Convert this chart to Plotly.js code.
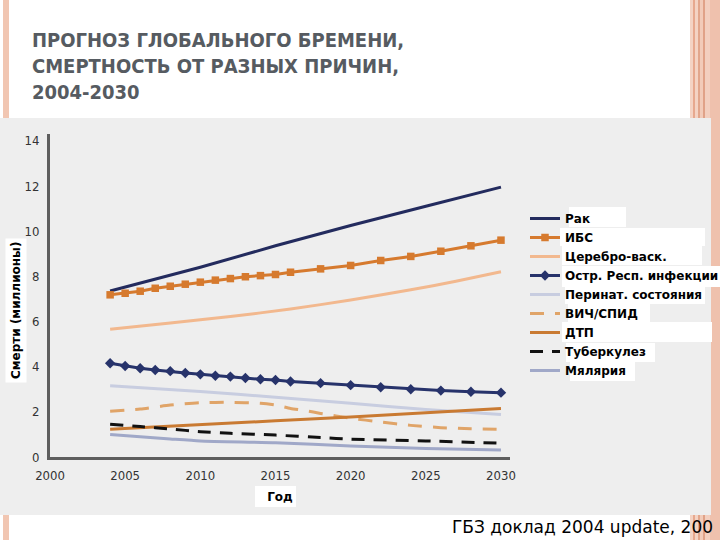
<!DOCTYPE html>
<html>
<head>
<meta charset="utf-8">
<script src="https://cdn.plot.ly/plotly-3.0.1.min.js"></script>
<style>
  html, body { margin: 0; padding: 0; background: #ffffff; }
  #chart { width: 720px; height: 540px; }
</style>
</head>
<body>
<div id="chart"></div>
<script>
// ---- Data (deaths, millions) ----
const seriesNames = ['Рак', 'ИБС', 'Церебро-васк.', 'Остр. Респ. инфекции', 'Перинат. состояния', 'ВИЧ/СПИД', 'ДТП', 'Туберкулез', 'Мялярия'];

const markedYears = [2004, 2005, 2006, 2007, 2008, 2009, 2010, 2011, 2012, 2013, 2014, 2015, 2016, 2018, 2020, 2022, 2024, 2026, 2028, 2030];

const cancerYears = [2004, 2010, 2015, 2020, 2025, 2030];
const cancer = [7.35, 8.4, 9.35, 10.25, 11.1, 11.95];

const ihd = [7.18, 7.25, 7.34, 7.47, 7.56, 7.65, 7.74, 7.83, 7.9, 7.98, 8.03, 8.08, 8.18, 8.33, 8.48, 8.7, 8.88, 9.11, 9.35, 9.6];

const cerebroYears = [2004, 2008, 2012, 2016, 2020, 2024, 2027, 2030];
const cerebro = [5.66, 5.93, 6.22, 6.55, 6.95, 7.4, 7.78, 8.2];

const respInf = [4.15, 4.03, 3.93, 3.85, 3.8, 3.72, 3.66, 3.6, 3.56, 3.5, 3.44, 3.41, 3.34, 3.27, 3.18, 3.09, 3.0, 2.94, 2.89, 2.85];

const perinatYears = [2004, 2010, 2015, 2020, 2025, 2030];
const perinat = [3.15, 2.9, 2.65, 2.38, 2.1, 1.88];

const hivYears = [2004, 2006, 2008, 2010, 2012, 2014, 2015, 2016, 2017, 2018, 2020, 2022, 2024, 2026, 2028, 2030];
const hiv = [2.03, 2.12, 2.3, 2.4, 2.42, 2.38, 2.3, 2.15, 2.05, 1.93, 1.72, 1.55, 1.4, 1.3, 1.25, 1.23];

const roadYears = [2004, 2010, 2015, 2020, 2025, 2030];
const road = [1.23, 1.42, 1.6, 1.77, 1.97, 2.15];

const tbYears = [2004, 2006, 2008, 2010, 2012, 2015, 2018, 2020, 2025, 2030];
const tb = [1.45, 1.35, 1.24, 1.12, 1.05, 0.97, 0.86, 0.79, 0.71, 0.61];

const malariaYears = [2004, 2008, 2010, 2015, 2020, 2025, 2030];
const malaria = [1.0, 0.8, 0.71, 0.63, 0.49, 0.38, 0.31];

const xTicks = [2000, 2005, 2010, 2015, 2020, 2025, 2030];
const yTicks = [0, 2, 4, 6, 8, 10, 12, 14];

// ---- Layout geometry ----
const L = 50, T = 134, W = 460, H = 323;
const px = x => (x - L) / W;
const py = y => (T + H - y) / H;

function line(x, y, name, color, extra) {
  return Object.assign({
    type: 'scatter', mode: 'lines', x: x, y: y, name: name,
    line: { color: color, width: 3 }, hoverinfo: 'skip'
  }, extra || {});
}

const traces = [
  line(cancerYears, cancer, seriesNames[0], '#232b5e'),
  line(markedYears, ihd, seriesNames[1], '#d67a2e', { mode: 'lines+markers', marker: { symbol: 'square', size: 7.5, color: '#d67a2e' } }),
  line(cerebroYears, cerebro, seriesNames[2], '#f2b88e', { line: { color: '#f2b88e', width: 3, shape: 'spline', smoothing: 0.6 } }),
  line(markedYears, respInf, seriesNames[3], '#27336b', { mode: 'lines+markers', marker: { symbol: 'diamond', size: 8, color: '#27336b' } }),
  line(perinatYears, perinat, seriesNames[4], '#c8cde0', { line: { color: '#c8cde0', width: 3, shape: 'spline', smoothing: 0.6 } }),
  line(hivYears, hiv, seriesNames[5], '#e0a468', { line: { color: '#e0a468', width: 3, dash: '14px,11px', shape: 'spline', smoothing: 0.6 } }),
  line(roadYears, road, seriesNames[6], '#c97a32'),
  line(tbYears, tb, seriesNames[7], '#111111', { line: { color: '#111111', width: 3, dash: '13px,9px', shape: 'spline', smoothing: 0.6 } }),
  line(malariaYears, malaria, seriesNames[8], '#a0a8c8', { line: { color: '#a0a8c8', width: 3, shape: 'spline', smoothing: 0.6 } })
];

const salmon = '#f1c6b2';
const shapes = [];
function rect(x0, y0, x1, y1, color, layer) {
  shapes.push({ type: 'rect', xref: 'paper', yref: 'paper', x0: px(x0), x1: px(x1), y0: py(y1), y1: py(y0),
    fillcolor: color, line: { width: 0 }, layer: layer || 'below' });
}
// decorative frame
rect(3, 0, 9, 540, salmon);
rect(690, 0, 693, 540, '#f4d3c4');
rect(693, 0, 695, 540, '#e7a88e');
rect(695, 0, 698, 540, '#f4d3c4');
rect(698, 0, 700, 540, '#e2a68c');
rect(700, 0, 703, 540, '#f2cbb9');
rect(703, 0, 705, 540, '#e0a288');
rect(705, 0, 710, 540, '#f3cfbf');
rect(710, 0, 720, 540, '#efc1ad');
// grey panel
rect(0, 118, 711, 515, '#eeeeee');
// white label boxes (behind text)
rect(255, 486, 296, 507, '#ffffff', 'above');
const legendBoxes = [[569, 207, 626, 227], [560, 228, 705, 246], [562, 246, 702, 265], [562, 266, 720, 287],
  [565, 287, 705, 304], [568, 304, 650, 322], [562, 322, 712, 342], [566, 343, 655, 362], [570, 362, 635, 381]];
legendBoxes.forEach(b => rect(b[0], b[1], b[2], b[3], '#ffffff', 'above'));

const tickFont = { family: 'Liberation Sans Narrow, DejaVu Sans Condensed, Arial Narrow, sans-serif', size: 13, color: '#333333' };
const labelFont = { family: 'DejaVu Sans, sans-serif', size: 12, weight: 'bold', color: '#000000' };

const layout = {
  width: 720, height: 540,
  margin: { l: L, r: 720 - L - W, t: T, b: 540 - T - H, pad: 0, autoexpand: false },
  paper_bgcolor: '#ffffff',
  plot_bgcolor: 'rgba(0,0,0,0)',
  showlegend: true,
  title: {
    text: 'ПРОГНОЗ ГЛОБАЛЬНОГО БРЕМЕНИ,<br>СМЕРТНОСТЬ ОТ РАЗНЫХ ПРИЧИН,<br>2004-2030',
    font: { family: 'DejaVu Sans Condensed, DejaVu Sans, sans-serif', size: 20, weight: 'bold', color: '#565b61' },
    xref: 'container', yref: 'container', x: 32 / 720, xanchor: 'left', y: 1 - 47 / 540, yanchor: 'top'
  },
  xaxis: {
    range: [2000, 2030.6], tickvals: xTicks, ticktext: xTicks.map(String),
    showgrid: false, zeroline: false, showline: true, linecolor: '#5e5e5e', linewidth: 3,
    ticks: '', tickfont: tickFont, ticklabelstandoff: 4, fixedrange: true,
    title: { text: 'Год', font: labelFont, standoff: 12 }
  },
  yaxis: {
    range: [0, 14.3], tickvals: yTicks, ticktext: yTicks.map(String),
    showgrid: false, zeroline: false, showline: true, linecolor: '#5e5e5e', linewidth: 3,
    ticks: '', tickfont: tickFont, ticklabelstandoff: 5, fixedrange: true
  },
  legend: {
    x: px(525), xanchor: 'left', y: py(204), yanchor: 'top',
    bgcolor: 'rgba(0,0,0,0)', borderwidth: 0, tracegroupgap: 0,
    font: labelFont
  },
  shapes: shapes,
  annotations: [
    {
      text: 'Смерти (миллионы)', textangle: -90, xref: 'paper', yref: 'paper', x: px(16), y: py(311),
      xanchor: 'center', yanchor: 'middle', showarrow: false, bgcolor: '#ffffff', borderpad: 3,
      font: labelFont
    },
    {
      text: 'ГБЗ доклад 2004 update, 200', xref: 'paper', yref: 'paper', x: px(450), y: py(527),
      xanchor: 'left', yanchor: 'middle', showarrow: false,
      font: { family: 'DejaVu Sans, sans-serif', size: 17, color: '#000000' }
    }
  ]
};

Plotly.newPlot('chart', traces, layout, { displayModeBar: false, staticPlot: true });
</script>
</body>
</html>
